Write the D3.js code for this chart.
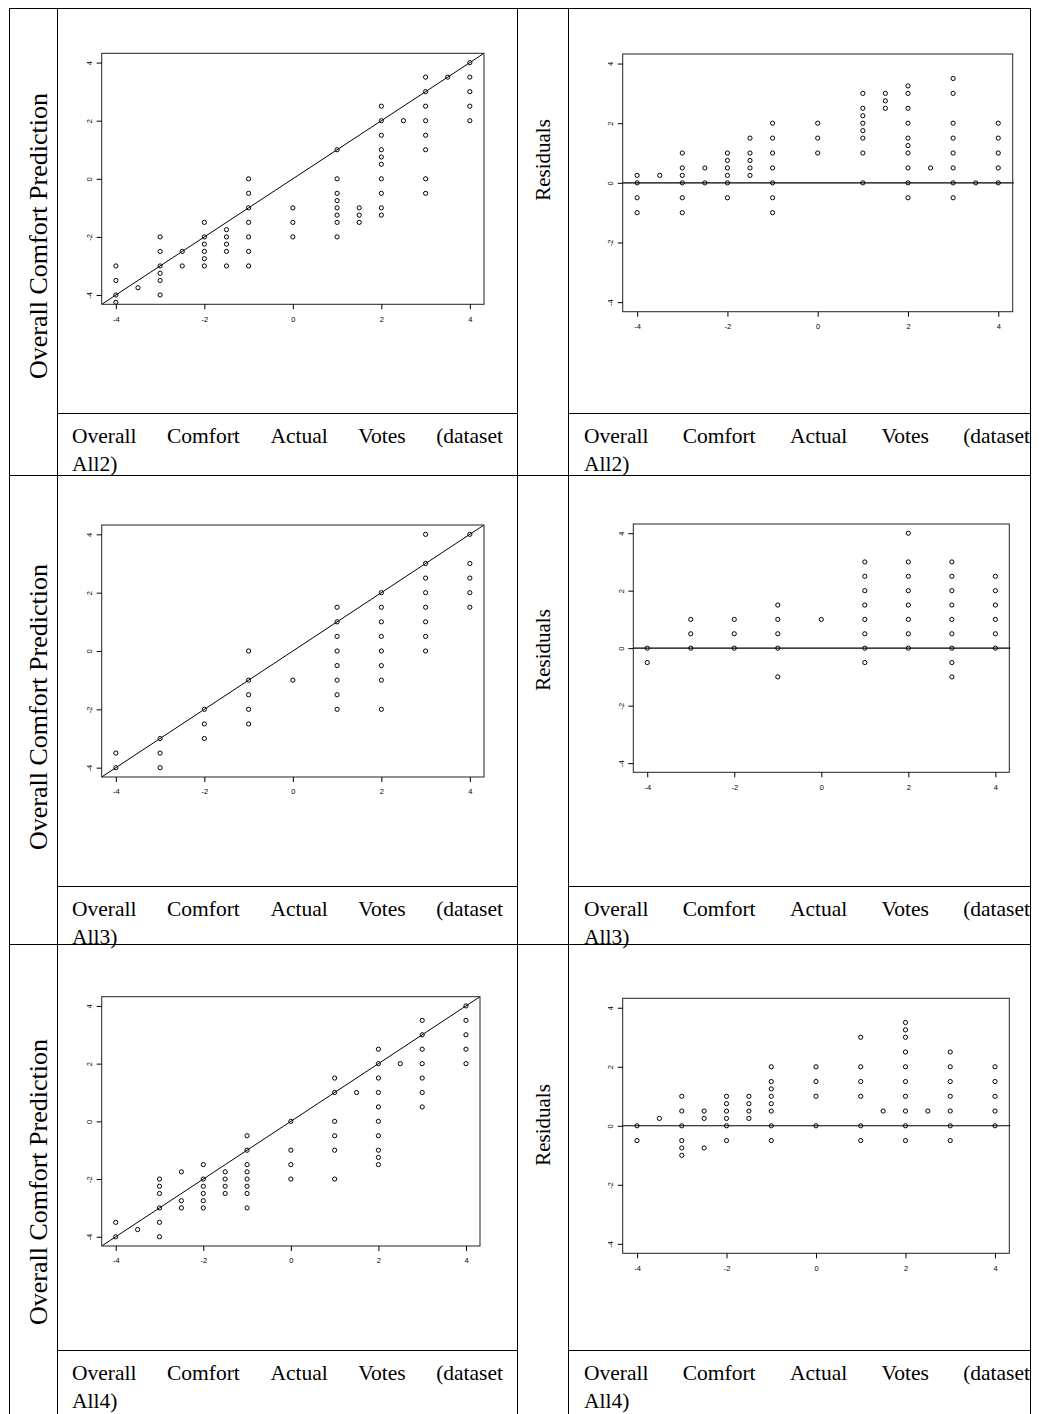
<!DOCTYPE html>
<html><head><meta charset="utf-8">
<script src="https://cdn.jsdelivr.net/npm/d3@7"></script>
<style>body{margin:0;background:#fff} svg{display:block}</style>
</head><body>
<svg id="c" width="1039" height="1414"></svg>
<script>
// ---- data (x = actual vote, list of y values at that x) ----
const tickValues = [-4, -2, 0, 2, 4];
const tickLabels = ["-4", "-2", "0", "2", "4"];

const all2Pred = [
  [-4, [-3, -3.5, -4, -4.25]], [-3.5, [-3.75]], [-3, [-2, -2.5, -3, -3.25, -3.5, -4]],
  [-2.5, [-2.5, -3]], [-2, [-1.5, -2, -2.25, -2.5, -2.75, -3]], [-1.5, [-1.75, -2, -2.25, -2.5, -3]],
  [-1, [0, -0.5, -1, -1.5, -2, -2.5, -3]], [0, [-1, -1.5, -2]],
  [1, [1, 0, -0.5, -0.75, -1, -1.25, -1.5, -2]], [1.5, [-1, -1.25, -1.5]],
  [2, [2.5, 2, 1.5, 1, 0.75, 0.5, 0, -0.5, -1, -1.25]], [2.5, [2]],
  [3, [3.5, 3, 2.5, 2, 1.5, 1, 0, -0.5]], [3.5, [3.5]], [4, [4, 3.5, 3, 2.5, 2]]
];
const all2Resid = [
  [-4, [0.25, 0, -0.5, -1]], [-3.5, [0.25]], [-3, [1, 0.5, 0.25, 0, -0.5, -1]],
  [-2.5, [0.5, 0]], [-2, [1, 0.75, 0.5, 0.25, 0, -0.5]], [-1.5, [1.5, 1, 0.75, 0.5, 0.25]],
  [-1, [2, 1.5, 1, 0.5, 0, -0.5, -1]], [0, [2, 1.5, 1]],
  [1, [3, 2.5, 2.25, 2, 1.75, 1.5, 1, 0]], [1.5, [3, 2.75, 2.5]],
  [2, [3.25, 3, 2.5, 2, 1.5, 1.25, 1, 0.5, 0, -0.5]], [2.5, [0.5]],
  [3, [3.5, 3, 2, 1.5, 1, 0.5, 0, -0.5]], [3.5, [0]], [4, [2, 1.5, 1, 0.5, 0]]
];
const all3Pred = [
  [-4, [-3.5, -4]], [-3, [-3, -3.5, -4]], [-2, [-2, -2.5, -3]], [-1, [0, -1, -1.5, -2, -2.5]],
  [0, [-1]], [1, [1.5, 1, 0.5, 0, -0.5, -1, -1.5, -2]], [2, [2, 1.5, 1, 0.5, 0, -0.5, -1, -2]],
  [3, [4, 3, 2.5, 2, 1.5, 1, 0.5, 0]], [4, [4, 3, 2.5, 2, 1.5]]
];
const all3Resid = [
  [-4, [0, -0.5]], [-3, [1, 0.5, 0]], [-2, [1, 0.5, 0]], [-1, [1.5, 1, 0.5, 0, -1]], [0, [1]],
  [1, [3, 2.5, 2, 1.5, 1, 0.5, 0, -0.5]], [2, [4, 3, 2.5, 2, 1.5, 1, 0.5, 0]],
  [3, [3, 2.5, 2, 1.5, 1, 0.5, 0, -0.5, -1]], [4, [2.5, 2, 1.5, 1, 0.5, 0]]
];
const all4Pred = [
  [-4, [-3.5, -4]], [-3.5, [-3.75]], [-3, [-2, -2.25, -2.5, -3, -3.5, -4]],
  [-2.5, [-1.75, -2.75, -3]], [-2, [-1.5, -2, -2.25, -2.5, -2.75, -3]], [-1.5, [-1.75, -2, -2.25, -2.5]],
  [-1, [-0.5, -1, -1.5, -1.75, -2, -2.25, -2.5, -3]], [0, [0, -1, -1.5, -2]],
  [1, [1.5, 1, 0, -0.5, -1, -2]], [1.5, [1]],
  [2, [2.5, 2, 1.5, 1, 0.5, 0, -0.5, -1, -1.25, -1.5]], [2.5, [2]],
  [3, [3.5, 3, 2.5, 2, 1.5, 1, 0.5]], [4, [4, 3.5, 3, 2.5, 2]]
];
const all4Resid = [
  [-4, [0, -0.5]], [-3.5, [0.25]], [-3, [1, 0.5, 0, -0.5, -0.75, -1]],
  [-2.5, [0.5, 0.25, -0.75]], [-2, [1, 0.75, 0.5, 0.25, 0, -0.5]], [-1.5, [1, 0.75, 0.5, 0.25]],
  [-1, [2, 1.5, 1.25, 1, 0.75, 0.5, 0, -0.5]], [0, [2, 1.5, 1, 0]],
  [1, [3, 2, 1.5, 1, 0, -0.5]], [1.5, [0.5]],
  [2, [3.5, 3.25, 3, 2.5, 2, 1.5, 1, 0.5, 0, -0.5]], [2.5, [0.5]],
  [3, [2.5, 2, 1.5, 1, 0.5, 0, -0.5]], [4, [2, 1.5, 1, 0.5, 0]]
];
const datasets = ["All2", "All3", "All4"];
const yTitleLeft = "Overall Comfort Prediction";
const yTitleRight = "Residuals";
const xTitleWords = ["Overall", "Comfort", "Actual", "Votes", "(dataset"];

// ---- layout ----
const svg = d3.select("#c");
const serif = "'Liberation Serif','Times New Roman',serif";
const sans = "'Liberation Sans',Arial,sans-serif";
const dom = [-4.32, 4.32];

// table grid
const T = {left: 9, right: 1030, top: 8, bottom: 1420,
  cols: [57, 517, 568], rowSep: [475, 944], labelTop: [413, 886, 1350]};
const grid = svg.append("g").attr("stroke", "#000").attr("stroke-width", 1).attr("shape-rendering", "crispEdges");
grid.append("line").attr("x1", T.left).attr("x2", T.right).attr("y1", T.top).attr("y2", T.top);
[T.left, ...T.cols, T.right].forEach(x => grid.append("line").attr("x1", x).attr("x2", x).attr("y1", T.top).attr("y2", T.bottom));
T.rowSep.forEach(y => grid.append("line").attr("x1", T.left).attr("x2", T.right).attr("y1", y).attr("y2", y));
T.labelTop.forEach(y => {
  grid.append("line").attr("x1", T.cols[0]).attr("x2", T.cols[1]).attr("y1", y).attr("y2", y);
  grid.append("line").attr("x1", T.cols[2]).attr("x2", T.right).attr("y1", y).attr("y2", y);
});

const leftTitleCenters = [236, 707, 1182];
const residCenters = [160, 650, 1125];

const frames = [
  {x0: 101.7, x1: 484, y0: 53.3, y1: 304.3, data: all2Pred, type: "pred"},
  {x0: 622.7, x1: 1012.7, y0: 54, y1: 311.7, data: all2Resid, type: "resid"},
  {x0: 101.7, x1: 484, y0: 525, y1: 777, data: all3Pred, type: "pred"},
  {x0: 633.3, x1: 1009.3, y0: 524, y1: 772.3, data: all3Resid, type: "resid"},
  {x0: 101.7, x1: 480, y0: 996.7, y1: 1246, data: all4Pred, type: "pred"},
  {x0: 622.7, x1: 1009.3, y0: 998.3, y1: 1253.3, data: all4Resid, type: "resid"}
];

frames.forEach((f, i) => {
  const g = svg.append("g");
  const x = d3.scaleLinear().domain(dom).range([f.x0, f.x1]);
  const y = d3.scaleLinear().domain(dom).range([f.y1, f.y0]);
  const id = "clip" + i;
  svg.append("clipPath").attr("id", id).append("rect")
    .attr("x", f.x0).attr("y", f.y0).attr("width", f.x1 - f.x0).attr("height", f.y1 - f.y0);

  if (f.type === "pred") {
    g.append("line").attr("clip-path", `url(#${id})`)
      .attr("x1", x(dom[0])).attr("y1", y(dom[0])).attr("x2", x(dom[1])).attr("y2", y(dom[1]))
      .attr("stroke", "#000").attr("stroke-width", 1);
  } else {
    g.append("line").attr("x1", f.x0).attr("x2", f.x1 + 1).attr("y1", y(0)).attr("y2", y(0))
      .attr("stroke", "#000").attr("stroke-width", 1.1);
  }

  const pts = f.data.flatMap(([xv, ys]) => ys.map(yv => [xv, yv]));
  g.selectAll("circle.p").data(pts).join("circle")
    .attr("cx", d => x(d[0])).attr("cy", d => y(d[1])).attr("r", 2.1)
    .attr("fill", "none").attr("stroke", "#000").attr("stroke-width", 1);

  g.append("rect").attr("x", f.x0).attr("y", f.y0).attr("width", f.x1 - f.x0).attr("height", f.y1 - f.y0)
    .attr("fill", "none").attr("stroke", "#222").attr("stroke-width", 1);

  const fmt = v => tickLabels[tickValues.indexOf(v)];
  const ax = g.append("g").attr("transform", `translate(0,${f.y1})`)
    .call(d3.axisBottom(x).tickValues(tickValues).tickFormat(fmt).tickSize(5).tickPadding(7));
  ax.select(".domain").remove();
  ax.selectAll("text").attr("font-family", sans).attr("font-size", 7.5).attr("fill", "#000");

  const ay = g.append("g").attr("transform", `translate(${f.x0},0)`)
    .call(d3.axisLeft(y).tickValues(tickValues).tickFormat(fmt).tickSize(5).tickPadding(3));
  ay.select(".domain").remove();
  ay.selectAll("text").attr("font-family", sans).attr("font-size", 7.5).attr("fill", "#000")
    .attr("x", null).attr("dy", null).attr("text-anchor", "middle")
    .attr("dominant-baseline", "central")
    .attr("transform", "translate(-12,0) rotate(-90)");
});

datasets.forEach((ds, i) => {
  svg.append("text").attr("transform", `translate(38,${leftTitleCenters[i]}) rotate(-90)`)
    .attr("text-anchor", "middle").attr("dominant-baseline", "central")
    .attr("font-family", serif).attr("font-size", 26).text(yTitleLeft);
  svg.append("text").attr("transform", `translate(543,${residCenters[i]}) rotate(-90)`)
    .attr("text-anchor", "middle").attr("dominant-baseline", "central")
    .attr("font-family", serif).attr("font-size", 21).text(yTitleRight);

  [[72, 503], [584, 1030]].forEach(([l, rr]) => {
    const base = T.labelTop[i] + 30;
    const tg = svg.append("g").attr("font-family", serif).attr("font-size", 21.5);
    const ws = xTitleWords.map(w => tg.append("text").attr("y", base).text(w));
    const widths = ws.map(t => t.node().getComputedTextLength());
    const gap = (rr - l - d3.sum(widths)) / (ws.length - 1);
    let cx = l;
    ws.forEach((t, k) => { t.attr("x", cx); cx += widths[k] + gap; });
    tg.append("text").attr("x", l).attr("y", base + 28).text(ds + ")");
  });
});
</script>
</body></html>
